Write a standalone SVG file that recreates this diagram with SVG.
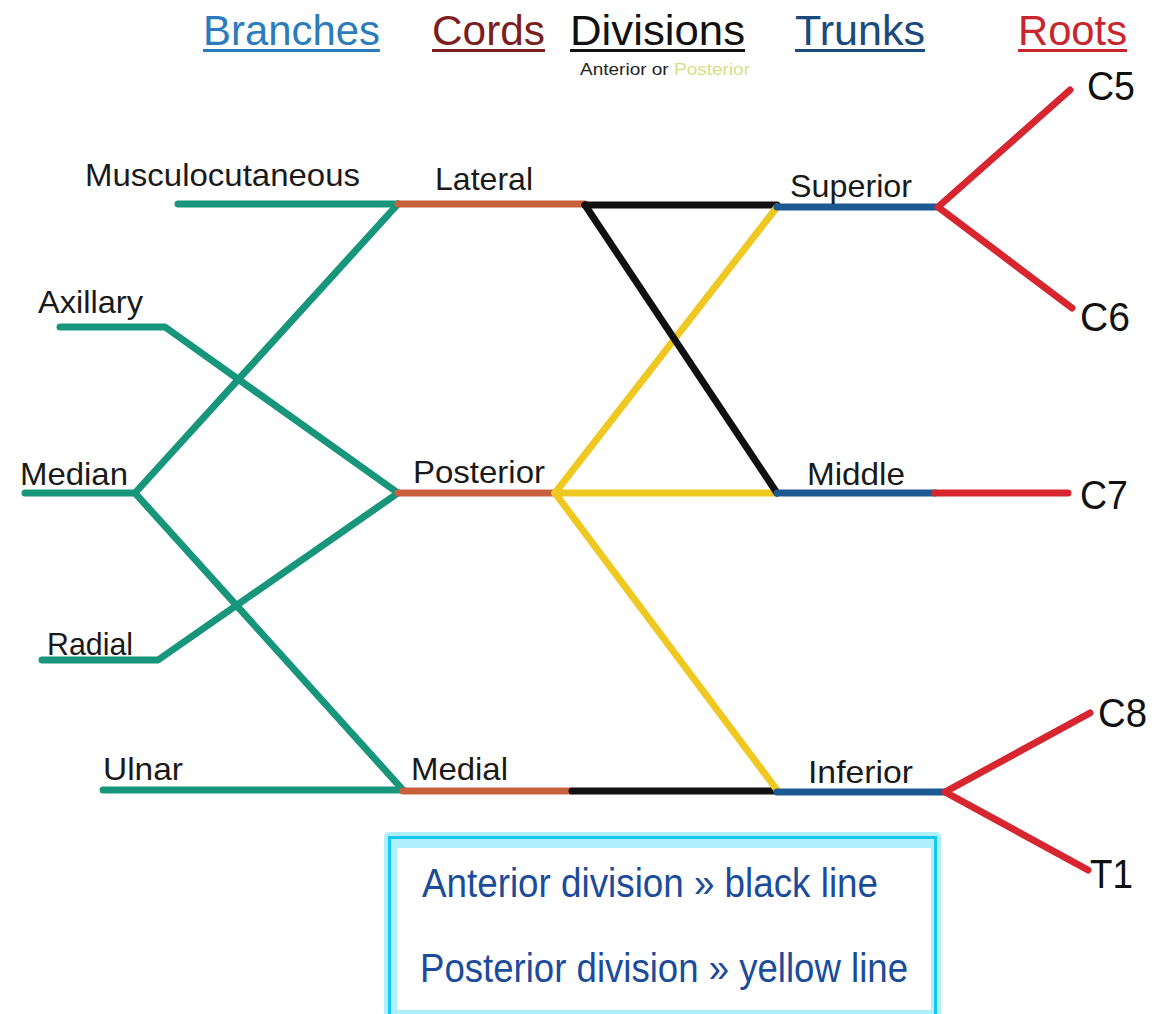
<svg xmlns="http://www.w3.org/2000/svg" width="1163" height="1014" viewBox="0 0 1163 1014">
<style>
.ln{fill:none;stroke-width:7;stroke-linecap:round;stroke-linejoin:round}
.g{stroke:#17967b}.o{stroke:#c9603c}.k{stroke:#111}.y{stroke:#f0c822}.b{stroke:#1c5891}.r{stroke:#d7262f}
.lbl{font-family:"Liberation Sans",Arial,sans-serif;font-size:32px;fill:#1a1a1a}
.root{font-family:"Liberation Sans",Arial,sans-serif;font-size:40px;fill:#111}
.hd{font-family:"Liberation Sans",Arial,sans-serif;font-size:42px}
.leg{font-family:"Liberation Sans",Arial,sans-serif;font-size:40px;fill:#1b4b9b}
</style>
<rect width="1163" height="1014" fill="#fff"/>
<g id="headers">
<text class="hd" x="203" y="45" fill="#2b7bbd" textLength="177" lengthAdjust="spacingAndGlyphs">Branches</text>
<rect x="203" y="49" width="177" height="3" fill="#2b7bbd"/>
<text class="hd" x="432" y="45" fill="#7a1e1e" textLength="113" lengthAdjust="spacingAndGlyphs">Cords</text>
<rect x="432" y="49" width="113" height="3" fill="#7a1e1e"/>
<text class="hd" x="570" y="45" fill="#111" textLength="175" lengthAdjust="spacingAndGlyphs">Divisions</text>
<rect x="570" y="49" width="175" height="3" fill="#111"/>
<text x="580" y="75" font-family="Liberation Sans,Arial,sans-serif" font-size="16" fill="#222" textLength="170" lengthAdjust="spacingAndGlyphs">Anterior or <tspan fill="#d3df86">Posterior</tspan></text>
<text class="hd" x="795" y="45" fill="#1b4a7c" textLength="130" lengthAdjust="spacingAndGlyphs">Trunks</text>
<rect x="795" y="49" width="130" height="3" fill="#1b4a7c"/>
<text class="hd" x="1018" y="45" fill="#c9252c" textLength="109" lengthAdjust="spacingAndGlyphs">Roots</text>
<rect x="1018" y="49" width="109" height="3" fill="#c9252c"/>
</g>
<g id="connectors">
<path class="ln g" d="M178,204 H398"/>
<path class="ln g" d="M60,327 H165 L398,493"/>
<path class="ln g" d="M25,493 H135"/>
<path class="ln g" d="M398,204 L135,493 L403,790"/>
<path class="ln g" d="M42,660 H158 L398,493"/>
<path class="ln g" d="M103,790 H403"/>
<path class="ln o" d="M398,204 H585"/>
<path class="ln o" d="M398,493 H555"/>
<path class="ln o" d="M403,791 H572"/>
<path class="ln k" d="M585,205 H777"/>
<path class="ln k" d="M572,791 H777"/>
<path class="ln y" d="M555,493 L777,207"/>
<path class="ln y" d="M555,493 H777"/>
<path class="ln y" d="M555,493 L777,790"/>
<path class="ln k" d="M585,205 L777,493"/>
<path class="ln b" d="M777,207 H938"/>
<path class="ln b" d="M777,493 H935"/>
<path class="ln b" d="M777,792 H945"/>
<path class="ln r" d="M1070,90 L938,207 L1072,308"/>
<path class="ln r" d="M935,493 H1068"/>
<path class="ln r" d="M1090,713 L945,792 L1088,870"/>
</g>
<g id="branches">
<text class="lbl" x="85" y="186" textLength="275" lengthAdjust="spacingAndGlyphs">Musculocutaneous</text>
<text class="lbl" x="38" y="313" textLength="105" lengthAdjust="spacingAndGlyphs">Axillary</text>
<text class="lbl" x="20" y="485" textLength="108" lengthAdjust="spacingAndGlyphs">Median</text>
<text class="lbl" x="47" y="655" textLength="86" lengthAdjust="spacingAndGlyphs">Radial</text>
<text class="lbl" x="103" y="780" textLength="80" lengthAdjust="spacingAndGlyphs">Ulnar</text>
</g>
<g id="cords">
<text class="lbl" x="435" y="190" textLength="98" lengthAdjust="spacingAndGlyphs">Lateral</text>
<text class="lbl" x="413" y="483" textLength="132" lengthAdjust="spacingAndGlyphs">Posterior</text>
<text class="lbl" x="411" y="780" textLength="97" lengthAdjust="spacingAndGlyphs">Medial</text>
</g>
<g id="trunks">
<text class="lbl" x="790" y="197" textLength="122" lengthAdjust="spacingAndGlyphs">Superior</text>
<text class="lbl" x="807" y="485" textLength="98" lengthAdjust="spacingAndGlyphs">Middle</text>
<text class="lbl" x="808" y="783" textLength="105" lengthAdjust="spacingAndGlyphs">Inferior</text>
</g>
<g id="roots">
<text class="root" x="1087" y="100" textLength="48" lengthAdjust="spacingAndGlyphs">C5</text>
<text class="root" x="1080" y="331" textLength="50" lengthAdjust="spacingAndGlyphs">C6</text>
<text class="root" x="1080" y="509" textLength="48" lengthAdjust="spacingAndGlyphs">C7</text>
<text class="root" x="1098" y="727" textLength="49" lengthAdjust="spacingAndGlyphs">C8</text>
<text class="root" x="1090" y="888" textLength="43" lengthAdjust="spacingAndGlyphs">T1</text>
</g>
<g id="legend">
<rect x="384" y="832" width="557" height="192" rx="5" fill="#aef0fb"/>
<rect x="389.5" y="837.5" width="546" height="190" fill="none" stroke="#16c7f1" stroke-width="3"/>
<rect x="397" y="848" width="534" height="162" fill="#fff"/>
<text class="leg" x="422" y="897" textLength="456" lengthAdjust="spacingAndGlyphs">Anterior division » black line</text>
<text class="leg" x="420" y="982" textLength="488" lengthAdjust="spacingAndGlyphs">Posterior division » yellow line</text>
</g>
</svg>
